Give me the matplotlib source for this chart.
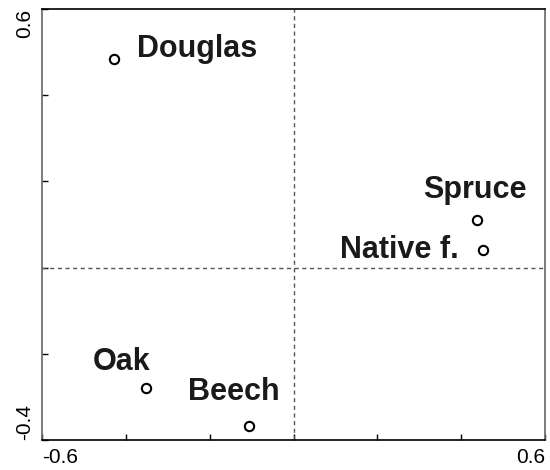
import matplotlib
matplotlib.use("Agg")
import matplotlib.pyplot as plt

plt.rcParams['font.family'] = ['Liberation Sans', 'DejaVu Sans']

names = ["Douglas", "Spruce", "Native f.", "Oak", "Beech"]
xs = [-0.428, 0.438, 0.453, -0.351, -0.107]
ys = [0.483, 0.110, 0.041, -0.279, -0.368]

# label offsets in pixels (baseline) and horizontal alignment
offsets = [(23, 2, 'left'), (-2, 22, 'center'), (-25, -8, 'right'), (-25, 18, 'center'), (-15, 26, 'center')]

fig = plt.figure(figsize=(5.5, 4.7), dpi=100)
ax = fig.add_axes([42/550, 30/470, 503/550, 431/470])
ax.set_xlim(-0.6, 0.6)
ax.set_ylim(-0.4, 0.6)

ax.axhline(0, color='#555555', lw=1, ls=(0, (3, 2.5)))
ax.axvline(0, color='#555555', lw=1, ls=(0, (3, 2.5)))

ax.scatter(xs, ys, s=45, facecolors='white', edgecolors='black', linewidths=1.5, zorder=3)

for n, x, y, (dx, dy, ha) in zip(names, xs, ys, offsets):
    ax.annotate(n, (x, y), xytext=(dx, dy), textcoords='offset pixels',
                ha=ha, va='baseline', fontsize=22, fontweight='bold', color='#1a1a1a')

xt = [-0.6, -0.4, -0.2, 0.0, 0.2, 0.4, 0.6]
yt = [-0.4, -0.2, 0.0, 0.2, 0.4, 0.6]
ax.set_xticks(xt)
ax.set_xticklabels(["-0.6", "", "", "", "", "", "0.6"])
ax.set_yticks(yt)
ax.set_yticklabels(["-0.4", "", "", "", "", "0.6"], rotation=90)
ax.tick_params(direction='in', length=4, width=1, labelsize=15, colors='black')
ax.tick_params(axis='x', pad=6)
ax.tick_params(axis='y', pad=6)
xl = ax.get_xticklabels()
xl[0].set_ha('left')
xl[-1].set_ha('right')
yl = ax.get_yticklabels()
yl[0].set_va('bottom')
yl[-1].set_va('top')
for side in ['left', 'right']:
    ax.spines[side].set_color('#666666')
    ax.spines[side].set_linewidth(1.2)
for side in ['top', 'bottom']:
    ax.spines[side].set_color('black')
    ax.spines[side].set_linewidth(1.2)

fig.savefig("out.png", dpi=100)
